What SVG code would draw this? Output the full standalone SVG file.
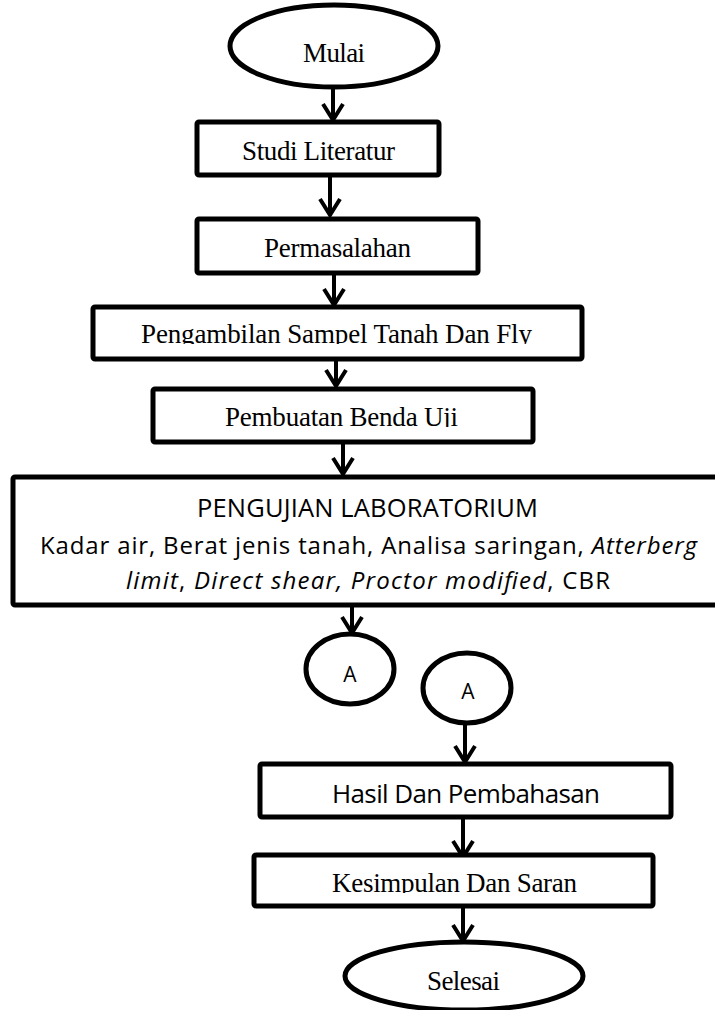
<svg xmlns="http://www.w3.org/2000/svg" width="715" height="1010" viewBox="0 0 715 1010">
<style>
.box{fill:#fff;stroke:#000;stroke-width:5;stroke-linejoin:round}
.ell{fill:#fff;stroke:#000;stroke-width:5}
.tr{font-family:"Liberation Serif","Times New Roman",serif;font-size:27px;fill:#000}
.sa{font-family:"Open Sans","Liberation Sans",sans-serif;fill:#000}
.con{stroke:#000;stroke-width:4;fill:none}
</style>
<defs>
<marker id="v" viewBox="0 0 20 24" refX="18" refY="12" markerWidth="20" markerHeight="24" markerUnits="userSpaceOnUse" orient="auto">
<path d="M2,2 L18,12 L2,22" fill="none" stroke="#000" stroke-width="4" stroke-linejoin="miter"/>
</marker>
<clipPath id="c1"><rect x="0" y="300" width="715" height="44"/></clipPath>
<clipPath id="c2"><rect x="0" y="385" width="715" height="42"/></clipPath>
<clipPath id="c3"><rect x="0" y="850" width="715" height="43"/></clipPath>
</defs>
<rect width="715" height="1010" fill="#fff"/>
<g id="connectors">
<line class="con" x1="333" y1="87" x2="333" y2="120" marker-end="url(#v)"/>
<line class="con" x1="330" y1="175" x2="330" y2="215" marker-end="url(#v)"/>
<line class="con" x1="334" y1="273" x2="334" y2="305" marker-end="url(#v)"/>
<line class="con" x1="336" y1="359" x2="336" y2="386" marker-end="url(#v)"/>
<line class="con" x1="343" y1="442" x2="343" y2="474" marker-end="url(#v)"/>
<line class="con" x1="352" y1="606" x2="352" y2="633" marker-end="url(#v)"/>
<line class="con" x1="465" y1="723" x2="465" y2="762" marker-end="url(#v)"/>
<line class="con" x1="463" y1="817" x2="463" y2="857" marker-end="url(#v)"/>
<line class="con" x1="463" y1="906" x2="463" y2="941" marker-end="url(#v)"/>
</g>
<g id="mulai">
<ellipse class="ell" cx="334" cy="46" rx="104" ry="41"/>
<text class="tr" x="303" y="62" textLength="62">Mulai</text>
</g>
<g id="studi">
<rect class="box" x="197" y="122" width="242" height="53" rx="2"/>
<text class="tr" x="242" y="160" textLength="153">Studi Literatur</text>
</g>
<g id="permasalahan">
<rect class="box" x="197" y="219" width="281" height="54" rx="2"/>
<text class="tr" x="264" y="257" textLength="147">Permasalahan</text>
</g>
<g id="pengambilan">
<rect class="box" x="93" y="307" width="489" height="52" rx="2"/>
<text class="tr" x="141" y="343" textLength="391" clip-path="url(#c1)">Pengambilan Sampel Tanah Dan Fly</text>
</g>
<g id="pembuatan">
<rect class="box" x="153" y="389" width="380" height="53" rx="2"/>
<text class="tr" x="225" y="426" textLength="233" clip-path="url(#c2)">Pembuatan Benda Uji</text>
</g>
<g id="pengujian">
<rect class="box" x="13" y="477" width="712" height="128" rx="2"/>
<text class="sa" font-size="25.5" x="197" y="517" textLength="341">PENGUJIAN LABORATORIUM</text>
<text class="sa" font-size="24" x="40" y="554" textLength="657">Kadar air, Berat jenis tanah, Analisa saringan, <tspan font-style="italic">Atterberg</tspan></text>
<text class="sa" font-size="24" x="126" y="589" textLength="484"><tspan font-style="italic">limit</tspan>, <tspan font-style="italic">Direct shear, Proctor modified</tspan>, CBR</text>
</g>
<g id="a1">
<ellipse class="ell" cx="350" cy="669" rx="44" ry="35"/>
<text class="sa" font-size="21" x="350" y="682" text-anchor="middle">A</text>
</g>
<g id="a2">
<ellipse class="ell" cx="467" cy="688" rx="44" ry="35"/>
<text class="sa" font-size="21" x="468" y="699" text-anchor="middle">A</text>
</g>
<g id="hasil">
<rect class="box" x="260" y="764" width="411" height="53" rx="2"/>
<text class="sa" font-size="26" x="332" y="803" textLength="268">Hasil Dan Pembahasan</text>
</g>
<g id="kesimpulan">
<rect class="box" x="254" y="855" width="399" height="51" rx="2"/>
<text class="tr" x="332" y="892" textLength="245" clip-path="url(#c3)">Kesimpulan Dan Saran</text>
</g>
<g id="selesai">
<ellipse class="ell" cx="464" cy="976" rx="119" ry="34"/>
<text class="tr" x="427" y="990" textLength="73">Selesai</text>
</g>
</svg>
